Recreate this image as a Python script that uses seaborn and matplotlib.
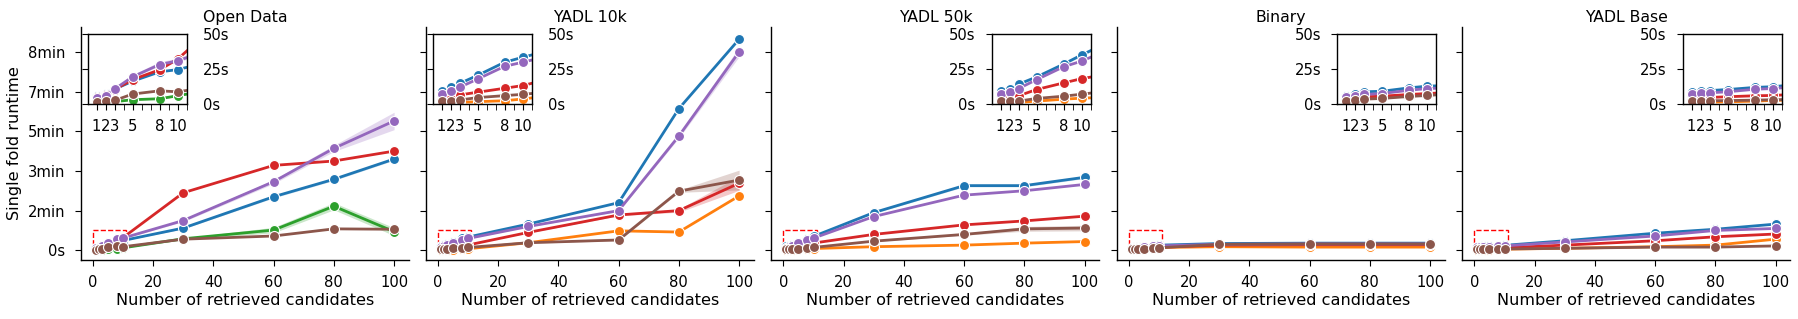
import numpy as np
import pandas as pd
import matplotlib
matplotlib.use("Agg")
import matplotlib.pyplot as plt
import seaborn as sns
from matplotlib.patches import Rectangle
from matplotlib.ticker import FuncFormatter, FixedLocator

# ---------------- data (seconds) ----------------
K = [1, 2, 3, 5, 8, 10, 30, 60, 80, 100]
METHODS = ["Method A", "Method B", "Method C", "Method D", "Method E", "Method F"]
PANELS = ["Open Data", "YADL 10k", "YADL 50k", "Binary", "YADL Base"]

# Open Data (no Method B)
od_A = [6.0, 7.7, 10.8, 16.4, 23.0, 24.6, 56, 135, 179, 230]
od_C = [1.4, 1.5, 1.9, 3.3, 4.0, 6.1, 29, 51, 111, 47]
od_D = [5.0, 6.5, 10.5, 17.5, 24.5, 32.0, 145, 214, 225, 250]
od_E = [4.7, 5.9, 10.8, 19.5, 28.2, 30.8, 75, 173, 257, 326]
od_F = [1.9, 2.3, 2.8, 7.3, 9.6, 8.9, 28, 36, 54, 53]
od_A_hw = [0.3, 0.3, 0.4, 0.5, 0.6, 0.6, 2, 3, 3, 3]
od_C_hw = [0, 0, 0, 0.2, 0.3, 0.5, 2, 7, 9, 10]
od_E_hw = [0.5, 0.5, 0.8, 1.0, 1.5, 1.5, 3, 5, 8, 22]

# YADL 10k (no Method C)
y10_A = [9.8, 12.4, 14.8, 20.5, 29.8, 33.3, 66, 120, 357, 532]
y10_B = [1.2, 1.2, 1.4, 1.9, 2.6, 3.8, 19, 49, 46, 137]
y10_D = [5.5, 5.7, 6.7, 8.6, 11.4, 13.3, 45, 89, 100, 169]
y10_E = [7.1, 9.8, 12.1, 17.9, 26.9, 29.8, 60, 100, 288, 500]
y10_F = [2.4, 2.6, 3.1, 4.8, 6.2, 7.1, 19, 26, 149, 177]
y10_D_hw = [0, 0, 0, 0, 0, 0, 1, 2, 4, 18]
y10_E_hw = [0, 0, 0, 0.5, 0.5, 0.5, 1, 2, 5, 12]
y10_F_hw = [0, 0, 0, 0, 0, 0, 1, 2, 3, 25]

# YADL 50k (no Method C)
y50_A = [9.6, 11.2, 14.3, 19.4, 28.5, 35.0, 95, 163, 163, 184]
y50_B = [1.2, 1.3, 1.4, 2.3, 3.7, 4.4, 9, 13, 18, 22]
y50_D = [4.7, 5.4, 6.1, 10.5, 15.2, 18.2, 40, 64, 74, 86]
y50_E = [7.0, 8.9, 11.2, 17.5, 26.6, 30.6, 85, 139, 150, 166]
y50_F = [2.1, 2.1, 2.3, 4.2, 5.8, 7.2, 23, 40, 54, 56]
y50_A_hw = [0.3, 0.3, 0.4, 0.5, 0.6, 0.8, 2, 3, 3, 3]
y50_F_hw = [0, 0, 0, 0, 0.3, 0.3, 1, 2, 6, 7]

# Binary (no Method C)
bin_A = [6.1, 7.7, 8.9, 9.3, 11.7, 12.9, 17, 18, 18, 18]
bin_B = [2.8, 3.5, 4.2, 4.7, 6.1, 7.0, 9, 8, 8, 8]
bin_D = [3.7, 4.7, 5.4, 5.8, 7.0, 7.7, 13, 14, 14, 14]
bin_E = [4.9, 6.1, 7.0, 7.7, 10.0, 11.2, 15, 16, 16, 16]
bin_F = [2.3, 2.8, 3.7, 4.2, 5.6, 6.3, 15, 16, 16, 16]

# YADL Base (no Method C)
base_A = [8.9, 9.3, 9.8, 10.5, 12.0, 12.5, 24, 43, 53, 66]
base_B = [1.5, 1.5, 1.6, 1.8, 2.3, 2.8, 5, 9, 13, 28]
base_D = [4.7, 4.8, 4.9, 5.4, 6.1, 6.3, 13, 24, 34, 41]
base_E = [7.7, 7.8, 8.2, 8.9, 10.7, 11.2, 21, 36, 50, 55]
base_F = [2.5, 2.5, 2.6, 2.7, 3.0, 3.3, 5, 8, 8, 11]

PANEL_DATA = {
    "Open Data": {"Method A": (od_A, od_A_hw), "Method C": (od_C, od_C_hw),
                  "Method D": (od_D, None), "Method E": (od_E, od_E_hw),
                  "Method F": (od_F, None)},
    "YADL 10k": {"Method A": (y10_A, None), "Method B": (y10_B, None),
                 "Method D": (y10_D, y10_D_hw), "Method E": (y10_E, y10_E_hw),
                 "Method F": (y10_F, y10_F_hw)},
    "YADL 50k": {"Method A": (y50_A, y50_A_hw), "Method B": (y50_B, None),
                 "Method D": (y50_D, None), "Method E": (y50_E, None),
                 "Method F": (y50_F, y50_F_hw)},
    "Binary": {"Method A": (bin_A, None), "Method B": (bin_B, None),
               "Method D": (bin_D, None), "Method E": (bin_E, None),
               "Method F": (bin_F, None)},
    "YADL Base": {"Method A": (base_A, None), "Method B": (base_B, None),
                  "Method D": (base_D, None), "Method E": (base_E, None),
                  "Method F": (base_F, None)},
}

MAIN_XTICKS = [0, 20, 40, 60, 80, 100]
MAIN_YTICKS = [0, 100, 200, 300, 400, 500]
INSET_XTICKS = [1, 2, 3, 5, 8, 10]
INSET_XMINOR = [4, 6, 7, 9, 11]
INSET_YTICKS = [0, 25, 50]
ZOOM_X = (0, 11)
ZOOM_Y = (0, 50)


def build_df(panel):
    rows = []
    for m, (vals, hw) in PANEL_DATA[panel].items():
        if hw is None:
            hw = [0] * len(vals)
        for k, v, h in zip(K, vals, hw):
            rows.append({"k": k, "sec": v - h, "method": m})
            rows.append({"k": k, "sec": v + h, "method": m})
    return pd.DataFrame(rows)


def fmt_time(v, pos=None):
    if abs(v) < 1e-9:
        return "0s"
    if v < 60:
        return f"{v:.0f}s"
    return f"{v / 60:.0f}min"


# ---------------- style ----------------
sns.set_style("ticks")
FS_TICK = 10.6
FS_LABEL = 11.6
FS_TITLE = 11.3
plt.rcParams.update({
    "font.family": ["DejaVu Sans"],
    "font.size": FS_TICK,
    "axes.labelsize": FS_LABEL,
    "axes.titlesize": FS_TITLE,
    "xtick.labelsize": FS_TICK,
    "ytick.labelsize": FS_TICK,
    "xtick.major.size": 4.3,
    "ytick.major.size": 4.3,
    "xtick.minor.size": 4.3,
    "xtick.major.pad": 6.5,
    "xtick.minor.pad": 6.5,
    "ytick.major.pad": 7.2,
    "axes.linewidth": 1.0,
    "axes.edgecolor": "black",
    "text.color": "black",
    "axes.labelcolor": "black",
    "xtick.color": "black",
    "ytick.color": "black",
})

palette = dict(zip(METHODS, sns.color_palette("tab10", 6)))

W, H = 1799, 319
fig = plt.figure(figsize=(W / 100, H / 100), dpi=100)

lefts_px = [81, 426, 771.5, 1117, 1462.5]
ax_w_px = 328
ax_top_px, ax_bot_px = 26.7, 260

line_kw = dict(marker="o", markersize=7.2, linewidth=2.0, markeredgecolor="white",
               markeredgewidth=0.8, errorbar=("pi", 100), legend=False,
               err_kws={"alpha": 0.25, "linewidth": 0})

for i, panel in enumerate(PANELS):
    ax = fig.add_axes([lefts_px[i] / W, 1 - ax_bot_px / H, ax_w_px / W,
                       (ax_bot_px - ax_top_px) / H])
    df = build_df(panel)
    order = [m for m in METHODS if m in PANEL_DATA[panel]]
    sns.lineplot(data=df, x="k", y="sec", hue="method", hue_order=order,
                 palette=palette, ax=ax, **line_kw)
    ax.set_xticks(MAIN_XTICKS)
    ax.set_yticks(MAIN_YTICKS)
    ax.set_xlim(-3.95, 104.95)
    ax.set_ylim(-24.5, 563.6)
    ax.yaxis.set_major_formatter(FuncFormatter(fmt_time))
    ax.set_xlabel("Number of retrieved candidates", labelpad=2)
    if i == 0:
        ax.set_ylabel("Single fold runtime", labelpad=4)
    else:
        ax.set_ylabel("")
        ax.tick_params(axis="y", labelleft=False)
    ax.set_title(panel, pad=3.5)
    sns.despine(ax=ax)
    ax.add_patch(Rectangle((ZOOM_X[0], ZOOM_Y[0]), ZOOM_X[1] - ZOOM_X[0],
                           ZOOM_Y[1] - ZOOM_Y[0], fill=False, edgecolor="red",
                           linestyle="--", linewidth=1.0, zorder=1))

    # inset
    iw, ih = 0.302, 0.303
    iy = 1 - 0.03 - ih
    ix = 0.02 if i < 2 else 1 - 0.027 - iw
    ins = ax.inset_axes([ix, iy, iw, ih])
    sns.lineplot(data=df, x="k", y="sec", hue="method", hue_order=order,
                 palette=palette, ax=ins, **line_kw)
    ins.set_xlim(*ZOOM_X)
    ins.set_ylim(*ZOOM_Y)
    ins.set_xticks(INSET_XTICKS)
    ins.set_xticklabels([str(t) for t in INSET_XTICKS])
    ins.xaxis.set_minor_locator(FixedLocator(INSET_XMINOR))
    ins.set_yticks(INSET_YTICKS)
    ins.yaxis.set_major_formatter(FuncFormatter(fmt_time))
    ins.set_xlabel("")
    ins.set_ylabel("")
    ins.set_facecolor("white")
    for s in ins.spines.values():
        s.set_visible(True)
        s.set_linewidth(1.0)
    if i < 2:
        ins.tick_params(axis="y", left=True, right=False, labelleft=False,
                        labelright=True)
    ins.tick_params(axis="x", which="both", bottom=True, top=False)

fig.savefig("out.png", dpi=100)
